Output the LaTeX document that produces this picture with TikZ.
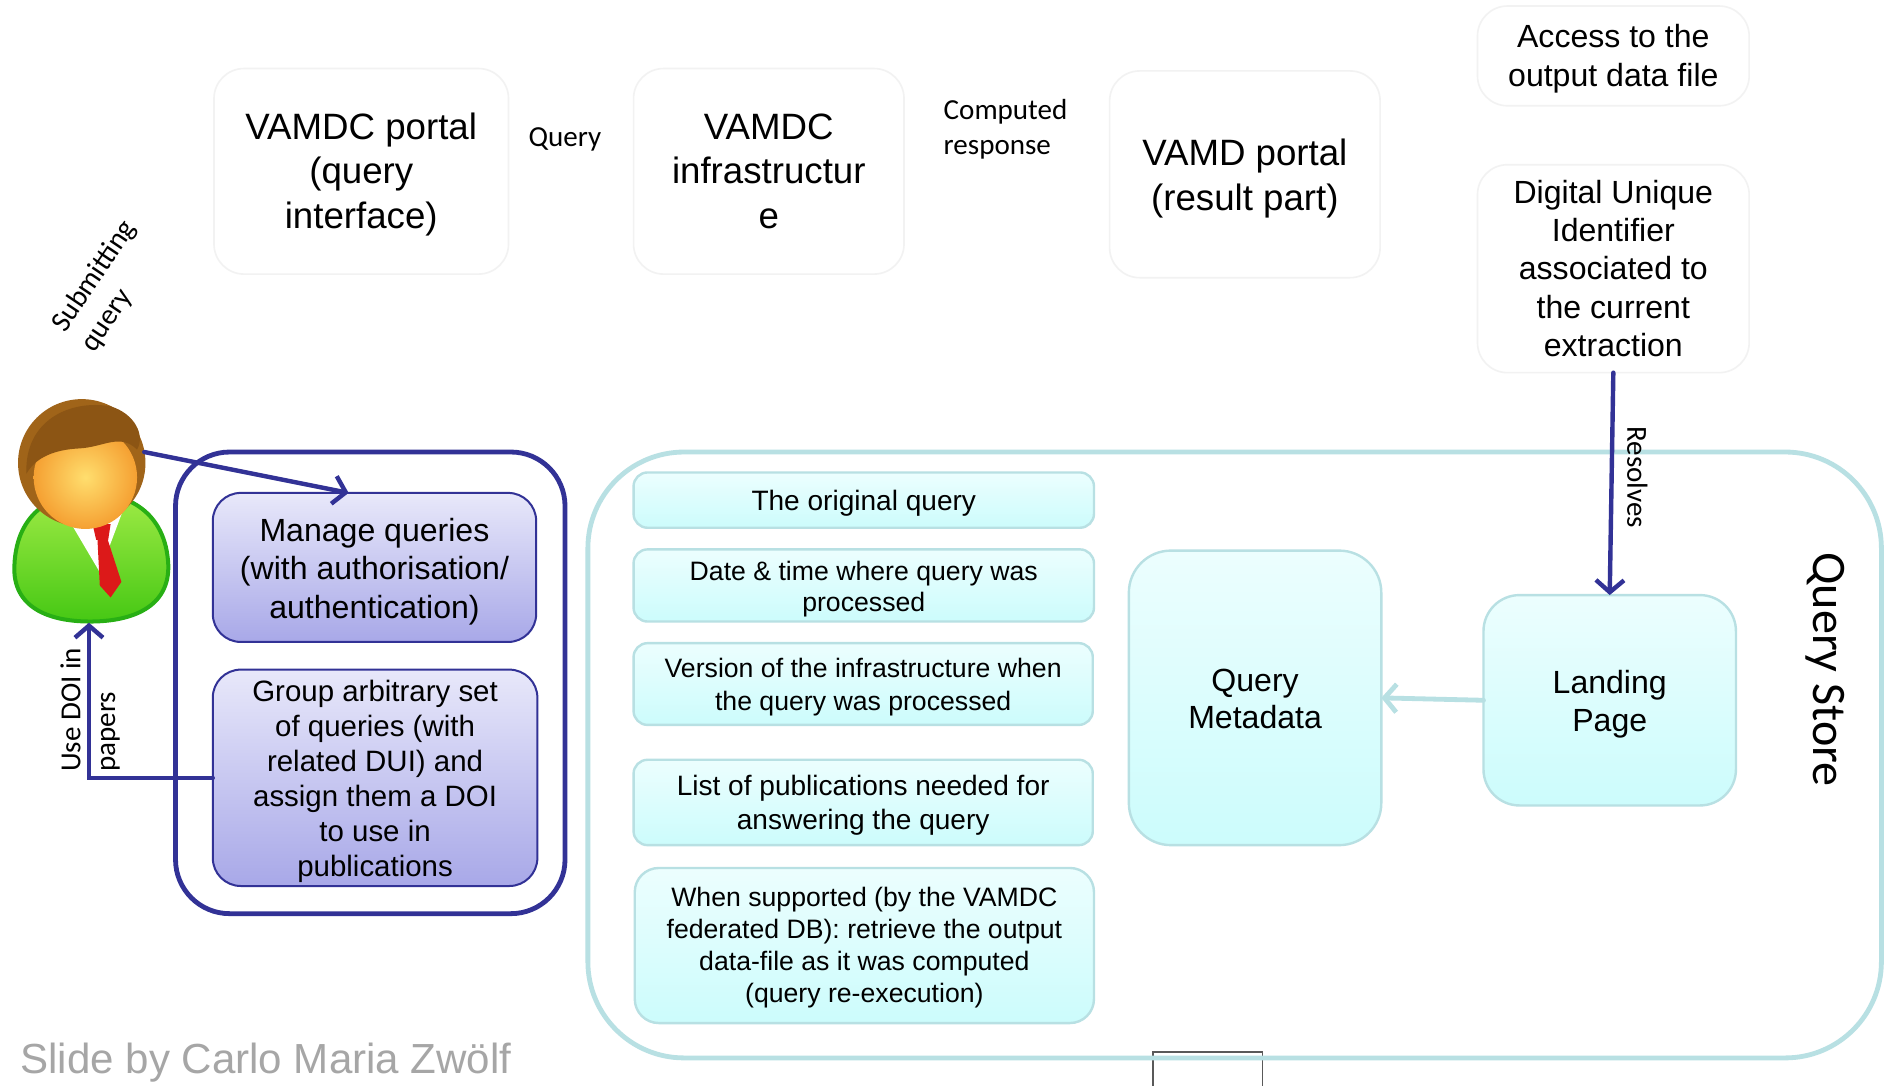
\documentclass[tikz,border=0pt]{standalone}
\usepackage{fontspec}
\setmainfont{Liberation Sans}
\newfontfamily\calib{Carlito}
\usetikzlibrary{arrows.meta}

\definecolor{navy}{RGB}{50,50,150}
\definecolor{qsline}{RGB}{184,224,227}
\definecolor{cyantop}{RGB}{236,254,254}
\definecolor{cyanbot}{RGB}{204,252,252}
\definecolor{lavtop}{RGB}{232,232,250}
\definecolor{lavbot}{RGB}{168,168,232}
\definecolor{faint}{RGB}{242,242,242}
\definecolor{credit}{RGB}{166,166,166}
\definecolor{hair}{RGB}{160,100,25}
\definecolor{hairdark}{RGB}{140,85,20}
\definecolor{facetop}{RGB}{255,222,110}
\definecolor{facebot}{RGB}{245,160,50}
\definecolor{suittop}{RGB}{160,235,70}
\definecolor{suitbot}{RGB}{70,200,20}
\definecolor{suitline}{RGB}{40,175,20}
\definecolor{tie}{RGB}{220,25,25}

% centred lines, drawn a little below the box centre
\newcommand\boxlines[2][1.8pt]{%
  \raisebox{-#1}[\height][\depth]{\begin{tabular}{@{}c@{}}#2\end{tabular}}}

\tikzset{
  every node/.style={inner sep=0pt, outer sep=0pt},
  topbox/.style={draw=faint, line width=0.8pt, fill=white, rounded corners=15pt},
  mgrbox/.style={draw=navy, line width=1pt, top color=lavtop, bottom color=lavbot, rounded corners=14pt},
  cybox/.style={draw=qsline, line width=1.2pt, top color=cyantop, bottom color=cyanbot, rounded corners=7pt},
  lbl/.style={font=\calib\fontsize{14.5}{17.4}\selectfont},
  navyarrow/.style={draw=navy, line width=2.2pt, line cap=round, -{Straight Barb[length=6pt,width=14pt]}},
  cyanarrow/.style={draw=qsline, line width=2.4pt, line cap=round, -{Straight Barb[length=6pt,width=14pt]}},
}

\begin{document}
\begin{tikzpicture}[x=0.6pt, y=-0.6pt]
\useasboundingbox (0,0) rectangle (1568,903);
\clip (0,0) rectangle (1568,903);
\fill[white] (0,0) rectangle (1568,903);

% framed picture peeking out below the store
\draw[black!65, line width=0.7pt] (959,875) rectangle (1050,930);

% ---------- top row: query flow ----------
\node[topbox, minimum width=147pt, minimum height=102.6pt, font=\fontsize{18.3}{22.2}\selectfont]
  (portalq) at (300.5,142.5) {\boxlines{VAMDC portal\\(query\\interface)}};
\node[lbl] (qlbl) at (470,116) {Query};
\node[topbox, minimum width=135pt, minimum height=102.6pt, font=\fontsize{18.3}{22.2}\selectfont]
  (infra) at (639.5,142.5) {\boxlines{VAMDC\\infrastructur\\e}};
\node[lbl, align=left, anchor=west] (clbl) at (785,107.5) {Computed\\response};
\node[topbox, minimum width=135pt, minimum height=103.2pt, font=\fontsize{18.3}{22.2}\selectfont]
  (portalr) at (1035.5,145) {\boxlines[2.4pt]{VAMD portal\\(result part)}};
\node[topbox, minimum width=135.6pt, minimum height=49.8pt, font=\fontsize{16}{19.2}\selectfont]
  (access) at (1342,46.5) {\boxlines{Access to the\\output data file}};
\node[topbox, minimum width=135.6pt, minimum height=103.8pt, font=\fontsize{16}{19.2}\selectfont]
  (dui) at (1342,223.5) {\boxlines[1.8pt]{Digital Unique\\Identifier\\associated to\\the current\\extraction}};

% ---------- query store ----------
\node[draw=qsline, line width=2.4pt, rounded corners=48pt, minimum width=645.6pt, minimum height=302.4pt]
  (store) at (1027,628) {};
\node[font=\calib\fontsize{24}{28}\selectfont, rotate=-90] (qslbl) at (1518,557) {Query Store};

\node[cybox, minimum width=229.8pt, minimum height=27.6pt, font=\fontsize{14}{16.8}\selectfont]
  (c1) at (718.5,416) {\boxlines{The original query}};
\node[cybox, minimum width=229.8pt, minimum height=36pt, font=\fontsize{13.3}{15.6}\selectfont]
  (c2) at (718.5,487) {\boxlines[2.2pt]{Date \& time where query was\\processed}};
\node[cybox, minimum width=229.2pt, minimum height=40.8pt, font=\fontsize{13.3}{16.2}\selectfont]
  (c3) at (718,569) {\boxlines{Version of the infrastructure when\\the query was processed}};
\node[cybox, minimum width=229.2pt, minimum height=42.6pt, font=\fontsize{14}{16.8}\selectfont]
  (c4) at (718,667.5) {\boxlines{List of publications needed for\\answering the query}};
\node[cybox, rounded corners=12pt, minimum width=229.2pt, minimum height=77.4pt, font=\fontsize{13.3}{16}\selectfont]
  (c5) at (719,786.5) {\boxlines[1.2pt]{When supported (by the VAMDC\\federated DB): retrieve the output\\data-file as it was computed\\(query re-execution)}};

\node[cybox, rounded corners=21pt, minimum width=126pt, minimum height=147pt, font=\fontsize{16}{18.6}\selectfont]
  (qm) at (1044,580.5) {\boxlines[2.4pt]{Query\\Metadata}};
\node[cybox, rounded corners=18pt, minimum width=126pt, minimum height=105pt, font=\fontsize{16}{19.2}\selectfont]
  (lp) at (1339,582.5) {\boxlines[2.2pt]{Landing\\Page}};

\draw[navyarrow] (dui.south) -- (lp.north);
\node[lbl, rotate=-90] (reslbl) at (1362,397) {Resolves};
\draw[cyanarrow] (lp.west) -- (qm.east);

% ---------- query management ----------
\node[draw=navy, line width=2.4pt, rounded corners=27pt, minimum width=194.4pt, minimum height=230.4pt]
  (mgr) at (308,568) {};
\node[mgrbox, minimum width=161.4pt, minimum height=74.4pt, font=\fontsize{16}{19.2}\selectfont]
  (m1) at (311.5,472) {\boxlines[2.4pt]{Manage queries\\(with authorisation/\\authentication)}};
\node[mgrbox, minimum width=162pt, minimum height=108pt, font=\fontsize{14.7}{17.5}\selectfont]
  (m2) at (312,647) {\boxlines[2.2pt]{Group arbitrary set\\of queries (with\\related DUI) and\\assign them a DOI\\to use in\\publications}};

% ---------- user ----------
% suit
\path[draw=suitline, line width=2pt, top color=suittop, bottom color=suitbot]
  (12,470) .. controls (14,425) and (45,410) .. (75,410)
  .. controls (105,410) and (138,425) .. (140,470)
  .. controls (141,505) and (110,517) .. (75,517)
  .. controls (40,517) and (10,505) .. (12,470) -- cycle;
% shirt collar
\fill[white] (50,420) -- (104,420) -- (83,476) -- cycle;
% tie
\fill[tie] (77,436) -- (92,436) -- (90,449) -- (80,449) -- cycle;
\fill[tie] (81,447) -- (89,447) -- (101,484) -- (92,497) -- (83,487) -- cycle;
% head
\fill[hair] (68,385) circle[radius=53];
\shade[inner color=facetop, outer color=facebot] (71,397) circle[radius=43];
\fill[hairdark] (22,394) .. controls (20,350) and (58,332) .. (92,338)
  .. controls (112,344) and (121,362) .. (114,374)
  .. controls (100,360) and (86,372) .. (66,373)
  .. controls (46,374) and (30,380) .. (22,394) -- cycle;
\node[minimum width=78pt, minimum height=112.8pt] (user) at (74,424) {};
\coordinate (headR) at (120,376);

\draw[navyarrow] (headR) -- ([xshift=-12.9pt]m1.north);
\draw[navyarrow] (m2.west) -| (user.south);

\node[lbl, rotate=56, align=left, anchor=west] (sublbl) at (61,282) {Submitting\\query};
\node[lbl, rotate=90, align=left, anchor=west] (doilbl) at (75,642) {Use DOI in\\papers};

% ---------- credit ----------
\node[font=\fontsize{21}{25}\selectfont, text=credit, anchor=base west] (credit) at (17,893)
  {Slide by Carlo Maria Zwölf};
\end{tikzpicture}
\end{document}
